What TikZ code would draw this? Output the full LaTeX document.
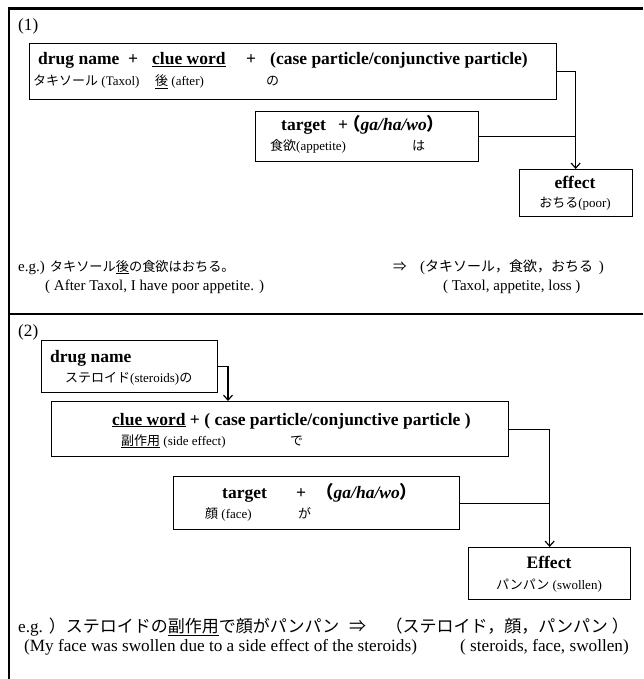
\documentclass[tikz,border=0pt]{standalone}
\usepackage{fontspec}
\setmainfont{Liberation Serif}
\newfontfamily\jp{Noto Sans CJK JP}
\usetikzlibrary{arrows.meta}
\begin{document}
\begin{tikzpicture}[x=1pt,y=-1pt,
  box/.style={draw, line width=1.3pt, anchor=north west, inner sep=0pt},
  sm/.style={anchor=base west, inner sep=0pt, font=\fontsize{13}{15}\selectfont},
  hd/.style={anchor=base west, inner sep=0pt, font=\fontsize{17.5}{20}\selectfont\bfseries},
  csm/.style={anchor=base, inner sep=0pt, font=\fontsize{13}{15}\selectfont},
  chd/.style={anchor=base, inner sep=0pt, font=\fontsize{17.5}{20}\selectfont\bfseries},
  egA/.style={anchor=base west, inner sep=0pt, font=\fontsize{15}{18}\selectfont},
  egB/.style={anchor=base west, inner sep=0pt, font=\fontsize{17.2}{20}\selectfont},
  arr/.style={line width=1.2pt, -{Straight Barb[length=5pt,width=9pt]}},
  conn/.style={line width=1.2pt}]
\useasboundingbox (0,0) rectangle (643,679);
% frame
\draw[line width=1.2pt] (9,679) -- (9,8.5);
\draw[line width=2.8pt] (8.4,8.5) -- (643,8.5);
\draw[line width=2.2pt] (9,314) -- (643,314);

% ---------- panel 1 ----------
\node[egB] (p1) at (18,31) {(1)};
\node[box, minimum width=527pt, minimum height=56pt] (A) at (29,43) {};
\node[hd] (A1) at (38,65) {drug name};
\node[hd] (A1p) at (128,65) {+};
\node[hd] (A1c) at (152,65) {\underline{clue word}};
\node[hd] (A1q) at (246,65) {+};
\node[hd] (A1d) at (270,65) {(case particle/conjunctive particle)};
\node[sm] (A2) at (33,86) {{\jp タキソール} (Taxol)};
\node[sm] (A3) at (155,86) {{\jp\underline{後}} (after)};
\node[sm] (A4) at (266,86) {\jp の};

\node[box, minimum width=223pt, minimum height=50pt] (B) at (255,111) {};
\node[hd] (B1) at (281,131) {target};
\node[hd] (B1p) at (338,131) {+};
\node[hd] (B1g) at (343,131) {{\jp （}\textit{ga/ha/wo}{\jp ）}};
\node[sm] (B2) at (270,151) {{\jp 食欲}(appetite)};
\node[sm] (B3) at (412,151) {\jp は};

\node[box, minimum width=113pt, minimum height=47pt] (E1) at (518.5,169) {};
\node[chd] (E1a) at (575,188) {effect};
\node[csm] (E1b) at (575,207) {{\jp おちる}(poor)};

\draw[arr] (A.east) -| (E1.north);
\draw[conn] (B.east) -- (B.east -| E1.north);

\node[egA] (g1) at (18,271) {e.g.) {\fontsize{13.2}{15}\jp タキソール\underline{後}の食欲はおちる。}};
\node[egA] (g2) at (393,271) {{\fontsize{13.5}{15}\jp ⇒}};
\node[egA] (g2b) at (420,271) {({\fontsize{14}{15}\jp タキソール，食欲，おちる }\,)};
\node[egA] (g3) at (45,290) {( After Taxol, I have poor appetite. )};
\node[egA] (g4) at (443,290) {( Taxol, appetite, loss )};

% ---------- panel 2 ----------
\node[egB] (p2) at (18,336) {(2)};
\node[box, minimum width=176pt, minimum height=52pt] (D) at (41,340) {};
\node[hd] (D1) at (50,362) {drug name};
\node[sm] (D2) at (65,382) {{\jp ステロイド}(steroids){\jp の}};
\coordinate (c1) at (228,401);

\node[box, minimum width=457pt, minimum height=55pt] (C) at (51,401) {};
\node[hd] (C1) at (112,425) {\underline{clue word} + ( case particle/conjunctive particle )};
\node[sm] (C2) at (121,445) {{\jp\underline{副作用}} (side effect)};
\node[sm] (C3) at (290,445) {\jp で};

\node[box, minimum width=286pt, minimum height=53pt] (T) at (173,476) {};
\node[hd] (T1) at (222,498) {target};
\node[hd] (T1p) at (296,498) {+};
\node[hd] (T1g) at (316,498) {{\jp （}\textit{ga/ha/wo}{\jp ）}};
\node[sm] (T2) at (205,518) {{\jp 顔} (face)};
\node[sm] (T3) at (298,518) {\jp が};

\node[box, minimum width=162pt, minimum height=52pt] (E2) at (468,547) {};
\node[chd] (E2a) at (549,568) {Effect};
\node[csm] (E2b) at (549,589) {{\jp パンパン} (swollen)};

\draw[arr] (D.east) -| (c1);
\draw[arr] (C.east) -| (E2.north);
\draw[conn] (T.east) -- (T.east -| E2.north);

\node[egB] (h1) at (18,632) {e.g. {\fontsize{17}{19}\jp ）ステロイドの\underline{副作用}で顔がパンパン}};
\node[egB] (h1b) at (349,632) {{\fontsize{17}{19}\jp ⇒}};
\node[egB, anchor=base east] (h1c) at (629,632) {{\fontsize{17}{19}\jp （ステロイド，顔，パンパン ）}};
\node[egB] (h2) at (24,651) {(My face was swollen due to a side effect of the steroids)};
\node[egB, anchor=base east] (h2b) at (629,651) {( steroids, face, swollen)};
\end{tikzpicture}
\end{document}
